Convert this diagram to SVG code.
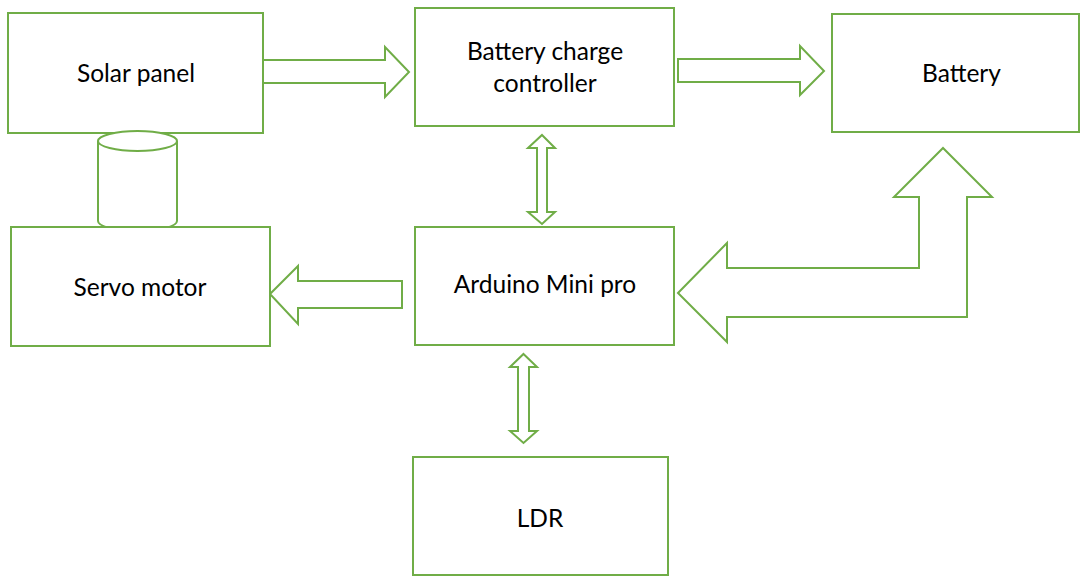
<svg xmlns="http://www.w3.org/2000/svg" width="1081" height="577" viewBox="0 0 1081 577">
<style>
.box{fill:#fff;stroke:#70AD47;stroke-width:2}
.arr{fill:#fff;stroke:#70AD47;stroke-width:2;stroke-linejoin:miter}
text{font-family:Lato,"Liberation Sans",sans-serif;font-size:24.5px;fill:#000;text-anchor:middle}
</style>
<rect width="1081" height="577" fill="#fff"/>
<g id="connectors">
<polygon class="arr" points="263,60 385,60 385,47 409,72 385,97 385,83 263,83"/>
<polygon class="arr" points="678,59 800,59 800,46 824,71 800,95 800,82 678,82"/>
<polygon class="arr" points="542,135 555,148 547,148 547,212 555,212 542,224 528,212 537,212 537,148 528,148"/>
<polygon class="arr" points="523.5,354 537,367 529,367 529,431 537,431 523.5,443 510,431 518,431 518,367 510,367"/>
<polygon class="arr" points="270,294 298,266 298,281 402,281 402,308 298,308 298,324"/>
<polygon class="arr" points="678,293 727,243 727,268 919,268 919,197 894,197 943,148 992,197 967,197 967,317 727,317 727,342"/>
</g>
<g id="solar-panel">
<rect class="box" x="8" y="13" width="255" height="120"/>
<text x="136" y="82">Solar panel</text>
</g>
<g id="cylinder">
<path class="box" d="M98,141 L98,221 A39.5,10 0 0 0 177,221 L177,141"/>
<ellipse class="box" cx="137.5" cy="141" rx="39.5" ry="10"/>
</g>
<g id="battery-charge-controller">
<rect class="box" x="415" y="8" width="259" height="118"/>
<text x="545" y="60">Battery charge</text>
<text x="545" y="92">controller</text>
</g>
<g id="battery">
<rect class="box" x="832" y="14" width="247" height="118"/>
<text x="961.5" y="82">Battery</text>
</g>
<g id="servo-motor">
<rect class="box" x="11" y="227" width="259" height="119"/>
<text x="140" y="296">Servo motor</text>
</g>
<g id="arduino">
<rect class="box" x="415" y="227" width="259" height="118"/>
<text x="545" y="293">Arduino Mini pro</text>
</g>
<g id="ldr">
<rect class="box" x="413" y="457" width="255" height="118"/>
<text x="540" y="527">LDR</text>
</g>
</svg>
